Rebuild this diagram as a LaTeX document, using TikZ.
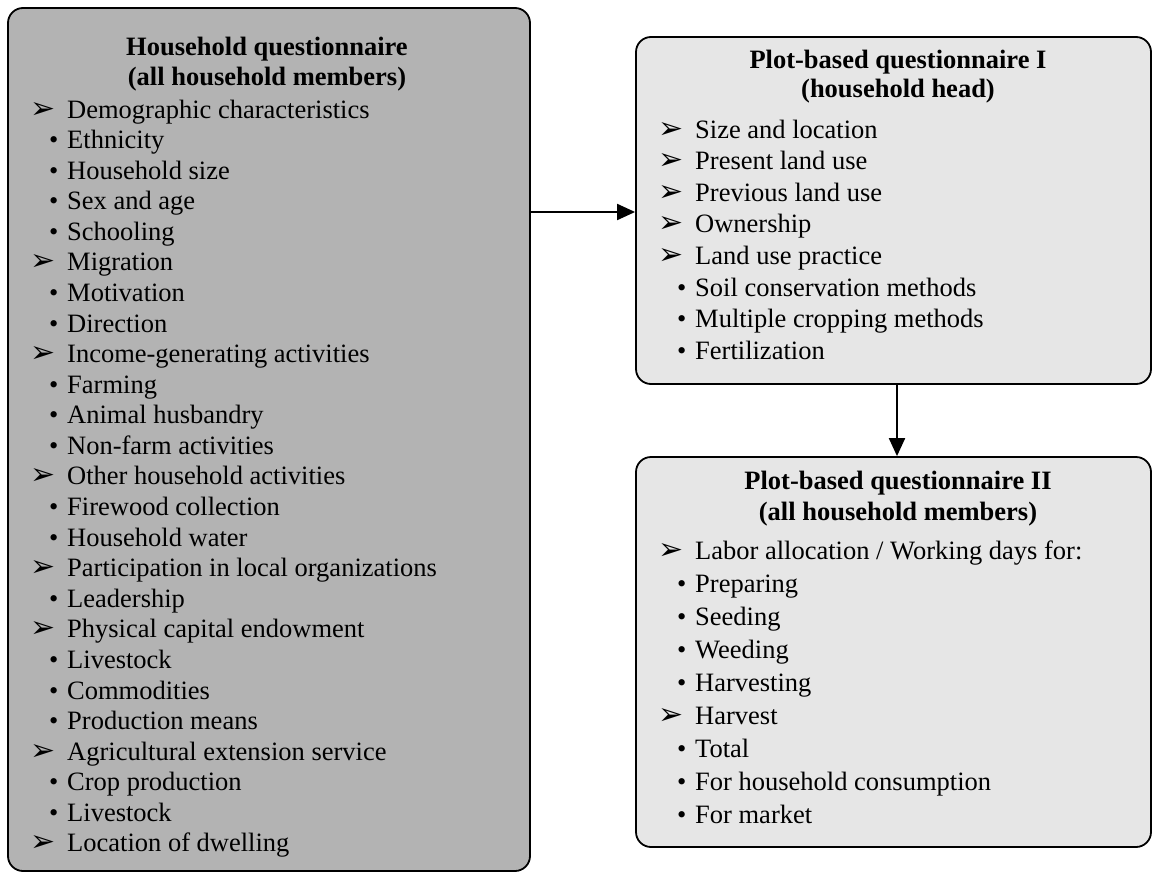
\documentclass[tikz,border=0pt]{standalone}
\usepackage{fontspec}
\setmainfont{Liberation Serif}
\newfontfamily\dingfont{DejaVu Sans}
\usetikzlibrary{arrows.meta}
\definecolor{darkbox}{HTML}{B3B3B3}
\definecolor{lightbox}{HTML}{E6E6E6}
\newcommand{\itemfont}{\fontsize{26.5}{30}\selectfont}
\newcommand{\Amk}{\makebox[37pt][l]{{\dingfont\fontsize{30}{30}\selectfont ➢}}}
\newcommand{\Bmk}{\hspace{19pt}\makebox[18pt][l]{•}}
\tikzset{
  qbox/.style={draw=black, line width=1.8pt, rounded corners=15pt, inner sep=0pt},
  item/.style={anchor=base west, inner sep=0pt, font=\itemfont},
  ttl/.style={anchor=base, inner sep=0pt, font=\itemfont\bfseries},
  arr/.style={line width=2pt, -{Triangle[length=18pt,width=16pt]}}
}
\begin{document}
\begin{tikzpicture}[x=1pt,y=-1pt]
\useasboundingbox (0,0) rectangle (1152,873);
% boxes
\node[qbox, fill=darkbox, minimum width=522pt, minimum height=863pt] (L) at (269,439.5) {};
\node[qbox, fill=lightbox, minimum width=515pt, minimum height=347pt] (R1) at (893.5,210.5) {};
\node[qbox, fill=lightbox, minimum width=515pt, minimum height=390pt] (R2) at (893.5,652) {};
% left box
\node[ttl] (Lt1) at (267,55) {Household questionnaire};
\node[ttl] (Lt2) at (267,85.5) {(all household members)};
\node[item] (L0) at (30,{118+30.58*0}) {\Amk Demographic characteristics};
\node[item] (L1) at (30,{118+30.58*1}) {\Bmk Ethnicity};
\node[item] (L2) at (30,{118+30.58*2}) {\Bmk Household size};
\node[item] (L3) at (30,{118+30.58*3}) {\Bmk Sex and age};
\node[item] (L4) at (30,{118+30.58*4}) {\Bmk Schooling};
\node[item] (L5) at (30,{118+30.58*5}) {\Amk Migration};
\node[item] (L6) at (30,{118+30.58*6}) {\Bmk Motivation};
\node[item] (L7) at (30,{118+30.58*7}) {\Bmk Direction};
\node[item] (L8) at (30,{118+30.58*8}) {\Amk Income-generating activities};
\node[item] (L9) at (30,{118+30.58*9}) {\Bmk Farming};
\node[item] (L10) at (30,{118+30.58*10}) {\Bmk Animal husbandry};
\node[item] (L11) at (30,{118+30.58*11}) {\Bmk Non-farm activities};
\node[item] (L12) at (30,{118+30.58*12}) {\Amk Other household activities};
\node[item] (L13) at (30,{118+30.58*13}) {\Bmk Firewood collection};
\node[item] (L14) at (30,{118+30.58*14}) {\Bmk Household water};
\node[item] (L15) at (30,{118+30.58*15}) {\Amk Participation in local organizations};
\node[item] (L16) at (30,{118+30.58*16}) {\Bmk Leadership};
\node[item] (L17) at (30,{118+30.58*17}) {\Amk Physical capital endowment};
\node[item] (L18) at (30,{118+30.58*18}) {\Bmk Livestock};
\node[item] (L19) at (30,{118+30.58*19}) {\Bmk Commodities};
\node[item] (L20) at (30,{118+30.58*20}) {\Bmk Production means};
\node[item] (L21) at (30,{118+30.58*21}) {\Amk Agricultural extension service};
\node[item] (L22) at (30,{118+30.58*22}) {\Bmk Crop production};
\node[item] (L23) at (30,{118+30.58*23}) {\Bmk Livestock};
\node[item] (L24) at (30,{118+30.58*24}) {\Amk Location of dwelling};
% right top box
\node[ttl] (At1) at (898,68) {Plot-based questionnaire I};
\node[ttl] (At2) at (898,97) {(household head)};
\node[item] (A0) at (658,{138+31.6*0}) {\Amk Size and location};
\node[item] (A1) at (658,{138+31.6*1}) {\Amk Present land use};
\node[item] (A2) at (658,{138+31.6*2}) {\Amk Previous land use};
\node[item] (A3) at (658,{138+31.6*3}) {\Amk Ownership};
\node[item] (A4) at (658,{138+31.6*4}) {\Amk Land use practice};
\node[item] (A5) at (658,{138+31.6*5}) {\Bmk Soil conservation methods};
\node[item] (A6) at (658,{138+31.6*6}) {\Bmk Multiple cropping methods};
\node[item] (A7) at (658,{138+31.6*7}) {\Bmk Fertilization};
% right bottom box
\node[ttl] (Bt1) at (898,489) {Plot-based questionnaire II};
\node[ttl] (Bt2) at (898,520) {(all household members)};
\node[item] (B0) at (658,{559+33*0}) {\Amk Labor allocation / Working days for:};
\node[item] (B1) at (658,{559+33*1}) {\Bmk Preparing};
\node[item] (B2) at (658,{559+33*2}) {\Bmk Seeding};
\node[item] (B3) at (658,{559+33*3}) {\Bmk Weeding};
\node[item] (B4) at (658,{559+33*4}) {\Bmk Harvesting};
\node[item] (B5) at (658,{559+33*5}) {\Amk Harvest};
\node[item] (B6) at (658,{559+33*6}) {\Bmk Total};
\node[item] (B7) at (658,{559+33*7}) {\Bmk For household consumption};
\node[item] (B8) at (658,{559+33*8}) {\Bmk For market};
% connectors
\coordinate (hA) at (0,212);
\coordinate (vA) at (897,0);
\draw[arr] (L.east |- hA) -- (R1.west |- hA);
\draw[arr] (R1.south -| vA) -- (R2.north -| vA);
\end{tikzpicture}
\end{document}
